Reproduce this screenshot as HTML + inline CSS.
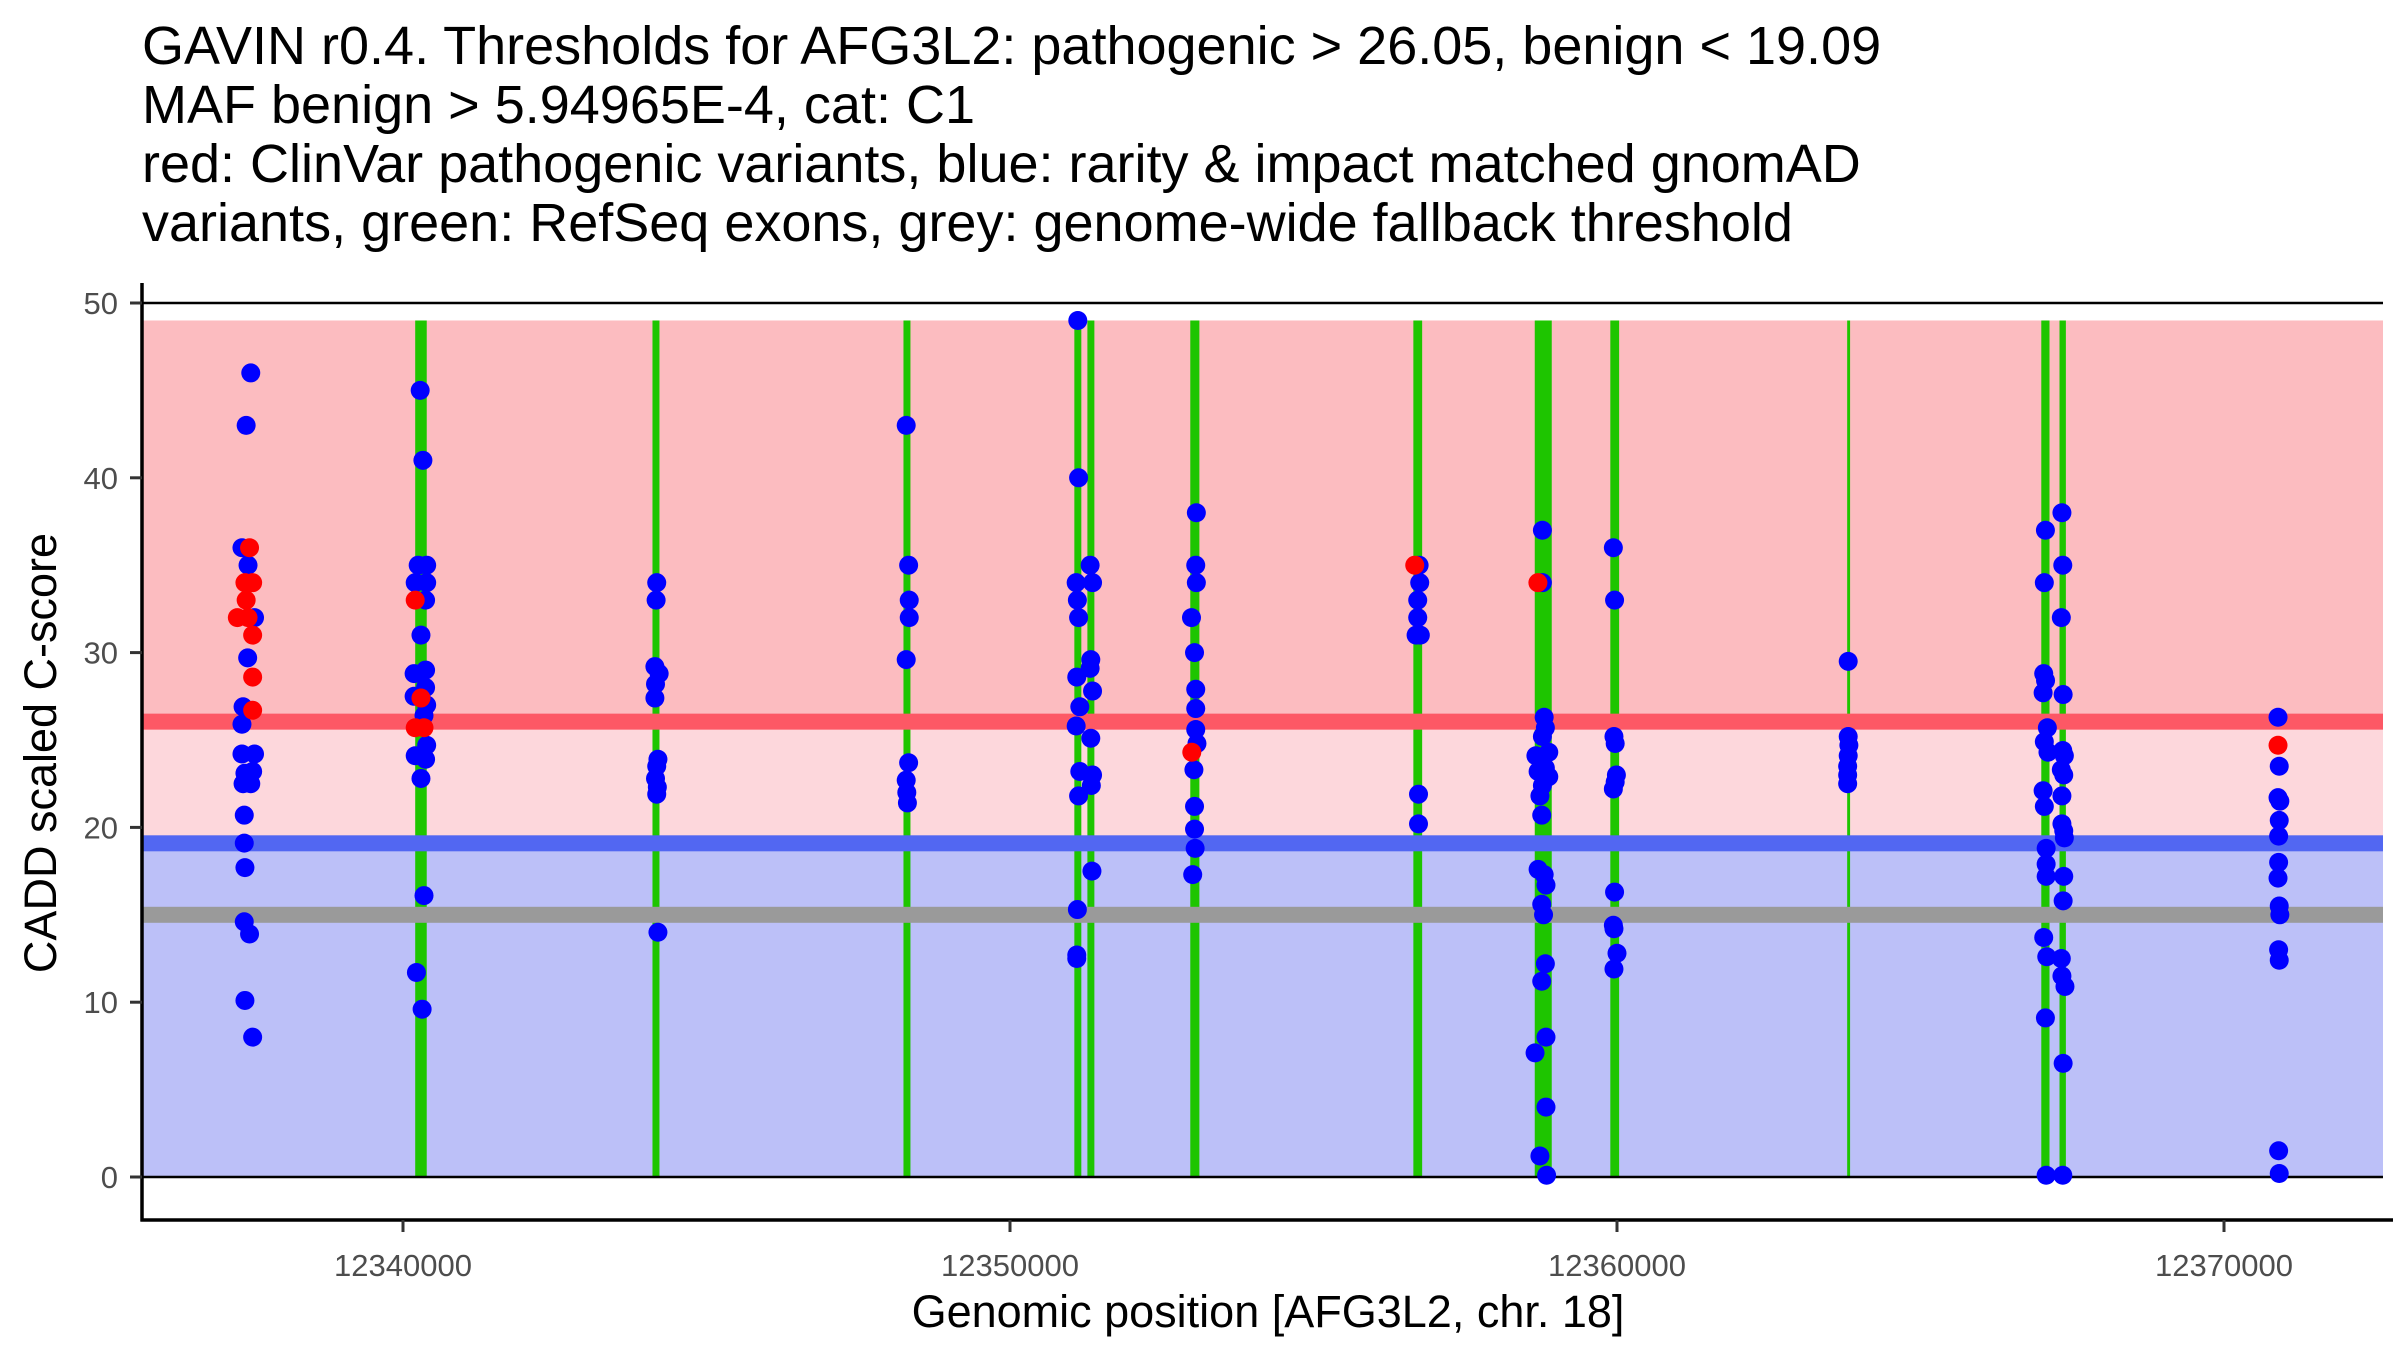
<!DOCTYPE html>
<html><head><meta charset="utf-8"><style>
html,body{margin:0;padding:0;background:#fff;}
svg{display:block;font-family:"Liberation Sans",Arial,sans-serif;}
</style></head><body>
<svg id="chart" width="2400" height="1350" viewBox="0 0 2400 1350" xmlns="http://www.w3.org/2000/svg">
<g font-size="54" fill="#000">
<text x="142" y="64">GAVIN r0.4. Thresholds for AFG3L2: pathogenic &gt; 26.05, benign &lt; 19.09</text>
<text x="142" y="123">MAF benign &gt; 5.94965E-4, cat: C1</text>
<text x="142" y="182">red: ClinVar pathogenic variants, blue: rarity &amp; impact matched gnomAD</text>
<text x="142" y="241">variants, green: RefSeq exons, grey: genome-wide fallback threshold</text>
</g>
<g id="bands"></g>
<g id="exons"></g>
<g id="lines"></g>
<g id="pts"></g>
<g id="axes"></g>
<text x="1268" y="1327" font-size="45" text-anchor="middle" fill="#000">Genomic position [AFG3L2, chr. 18]</text>
<text transform="translate(56,753) rotate(-90)" font-size="45" text-anchor="middle" fill="#000">CADD scaled C-score</text>
</svg>
<script>
const yTicks = [0, 10, 20, 30, 40, 50];
const xTicks = [12340000, 12350000, 12360000, 12370000];
const pathogenicThreshold = 26.05;
const benignThreshold = 19.09;
const fallbackThreshold = 15.0;
const maxScore = 49;
const exons = [[12340201,12340391],[12344110,12344225],[12348245,12348360],[12351060,12351175],[12351275,12351390],[12352970,12353120],[12356645,12356790],[12358645,12358925],[12359890,12360035],[12363792,12363840],[12366990,12367125],[12367290,12367395]];
const bluePoints = [
[12337492,46],[12337416,43],[12337347,36],[12337447,35],[12337554,32],[12337441,29.7],[12337365,26.9],[12337347,25.9],[12337347,24.2],[12337554,24.2],[12337523,23.2],[12337396,23.1],[12337365,22.5],[12337492,22.5],[12337385,20.7],[12337385,19.1],[12337396,17.7],[12337385,14.6],[12337472,13.9],[12337396,10.1],[12337523,8.0],
[12340283,45],[12340328,41],[12340250,35],[12340390,35],[12340201,34],[12340390,34],[12340372,33],[12340296,31],[12340372,29],[12340183,28.8],[12340372,28],[12340183,27.5],[12340390,27],[12340346,26.4],[12340390,24.7],[12340201,24.1],[12340372,23.9],[12340296,22.8],[12340346,16.1],[12340221,11.7],[12340315,9.6],
[12344180,34],[12344170,33],[12344150,29.2],[12344220,28.8],[12344160,28.2],[12344150,27.4],[12344200,23.9],[12344180,23.5],[12344160,22.8],[12344190,22.3],[12344180,21.9],[12344200,14.0],
[12348290,43],[12348330,35],[12348340,33],[12348340,32],[12348290,29.6],[12348330,23.7],[12348290,22.7],[12348300,22.0],[12348310,21.4],
[12351117,49],[12351130,40],[12351090,34],[12351110,33],[12351130,32],[12351100,28.6],[12351150,26.9],[12351090,25.8],[12351150,23.2],[12351130,21.8],[12351110,15.3],[12351100,12.7],[12351100,12.5],
[12351320,35],[12351360,34],[12351331,29.6],[12351320,29.1],[12351360,27.8],[12351331,25.1],[12351360,23.0],[12351340,22.4],[12351350,17.5],
[12353070,38],[12353060,35],[12353070,34],[12352990,32],[12353040,30],[12353060,27.9],[12353060,26.8],[12353060,25.6],[12353080,24.8],[12353030,23.3],[12353040,21.2],[12353040,19.9],[12353050,18.8],[12353010,17.3],
[12356740,35],[12356750,34],[12356717,33],[12356717,32],[12356690,31],[12356760,31],[12356730,21.9],[12356730,20.2],
[12358771,37],[12358771,34],[12358800,26.3],[12358820,25.7],[12358771,25.2],[12358876,24.3],[12358664,24.1],[12358820,23.4],[12358700,23.2],[12358876,22.9],[12358771,22.4],[12358730,21.8],[12358760,20.7],[12358700,17.6],[12358800,17.3],[12358830,16.7],[12358760,15.6],[12358790,15.0],[12358820,12.2],[12358760,11.2],[12358830,8.0],[12358650,7.1],[12358830,4.0],[12358730,1.2],[12358840,0.1],
[12359940,36],[12359960,33],[12359950,25.2],[12359970,24.8],[12359990,23.0],[12359970,22.6],[12359940,22.2],[12359960,16.3],[12359940,14.4],[12359950,14.2],[12360000,12.8],[12359950,11.9],
[12363809,29.5],[12363809,25.2],[12363820,24.7],[12363809,24.1],[12363800,23.5],[12363800,23.0],[12363800,22.5],
[12367058,37],[12367040,34],[12367030,28.8],[12367060,28.4],[12367020,27.7],[12367090,25.7],[12367040,24.9],[12367100,24.3],[12367020,22.1],[12367040,21.2],[12367070,18.8],[12367070,17.9],[12367070,17.2],[12367030,13.7],[12367080,12.6],[12367058,9.1],[12367070,0.1],
[12367330,38],[12367344,35],[12367320,32],[12367350,27.6],[12367344,24.4],[12367370,24.1],[12367320,23.3],[12367360,23.0],[12367330,21.8],[12367330,20.2],[12367360,19.8],[12367370,19.4],[12367360,17.2],[12367350,15.8],[12367320,12.5],[12367330,11.5],[12367380,10.9],[12367350,6.5],[12367344,0.1],
[12370890,26.3],[12370910,23.5],[12370890,21.7],[12370920,21.5],[12370910,20.4],[12370900,19.5],[12370900,18.0],[12370890,17.1],[12370910,15.5],[12370920,15.0],[12370900,13.0],[12370910,12.4],[12370900,1.5],[12370910,0.2]
];
const redPoints = [[12337472,36],[12337396,34],[12337523,34],[12337416,33],[12337271,32],[12337447,32],[12337523,31],[12337523,28.6],[12337523,26.7],[12340201,33],[12340296,27.4],[12340201,25.7],[12340346,25.7],[12352995,24.3],[12356668,35],[12358697,34],[12370890,24.7]];

const NS = "http://www.w3.org/2000/svg";
const PX0 = 142, PX1 = 2383, AXY = 1220;
function xs(p){ return 403 + (p - 12340000) * 0.0607; }
function ys(v){ return 1177 - v * 17.48; }
function mk(parent, tag, attrs){
  const e = document.createElementNS(NS, tag);
  for (const k in attrs) e.setAttribute(k, attrs[k]);
  parent.appendChild(e); return e;
}
const bands = document.getElementById('bands');
let r = mk(bands,'rect',{x:PX0,y:ys(maxScore),width:PX1-PX0,height:ys(pathogenicThreshold)-ys(maxScore),fill:'#fcbcc0'});


r = mk(bands,'rect',{x:PX0,y:ys(pathogenicThreshold),width:PX1-PX0,height:ys(benignThreshold)-ys(pathogenicThreshold),fill:'#fdd7dc'});


r = mk(bands,'rect',{x:PX0,y:ys(benignThreshold),width:PX1-PX0,height:ys(0)-ys(benignThreshold),fill:'#bcc0f8'});



const exG = document.getElementById('exons');
exons.forEach(function(ex){
  const x0 = xs(ex[0]), x1 = xs(ex[1]);
  const e = mk(exG,'rect',{x:x0,y:ys(maxScore),width:Math.max(2.5,x1-x0),height:ys(0)-ys(maxScore),fill:'#1ec500'});
  
  
});

const lg = document.getElementById('lines');
[[pathogenicThreshold,'#fd5865','pathogenic-threshold-line'],[benignThreshold,'#5267f2','benign-threshold-line'],[fallbackThreshold,'#9a9a9a','fallback-threshold-line']].forEach(function(t){
  const e = mk(lg,'rect',{x:PX0,y:ys(t[0])-8,width:PX1-PX0,height:16,fill:t[1]});
  
  
});
[50,0].forEach(function(v){
  const e = mk(lg,'line',{x1:PX0,x2:PX1,y1:ys(v),y2:ys(v),stroke:'#000','stroke-width':2.5});
  
  
});

const pg = document.getElementById('pts');
bluePoints.forEach(function(p){
  const c = mk(pg,'circle',{cx:xs(p[0]),cy:ys(p[1]),r:9.5,fill:'#0000ff'});
  
  
});
redPoints.forEach(function(p){
  const c = mk(pg,'circle',{cx:xs(p[0]),cy:ys(p[1]),r:9.5,fill:'#ff0000'});
  
  
});

const ax = document.getElementById('axes');
let a = mk(ax,'line',{x1:PX0,x2:PX0,y1:283,y2:AXY+1.5,stroke:'#000','stroke-width':3.5});


a = mk(ax,'line',{x1:PX0-1.5,x2:PX1+10,y1:AXY,y2:AXY,stroke:'#000','stroke-width':3.5});


yTicks.forEach(function(v){
  const t = mk(ax,'line',{x1:PX0-12,x2:PX0,y1:ys(v),y2:ys(v),stroke:'#333','stroke-width':3});
  
  
  const l = mk(ax,'text',{x:118,y:ys(v)+11,'text-anchor':'end','font-size':31,fill:'#4d4d4d'});
  l.textContent = String(v);
  
  
});
xTicks.forEach(function(v){
  const t = mk(ax,'line',{x1:xs(v),x2:xs(v),y1:AXY,y2:AXY+12,stroke:'#333','stroke-width':3});
  
  
  const l = mk(ax,'text',{x:xs(v),y:1276,'text-anchor':'middle','font-size':31,fill:'#4d4d4d'});
  l.textContent = String(v);
  
  
});
</script>
</body></html>
